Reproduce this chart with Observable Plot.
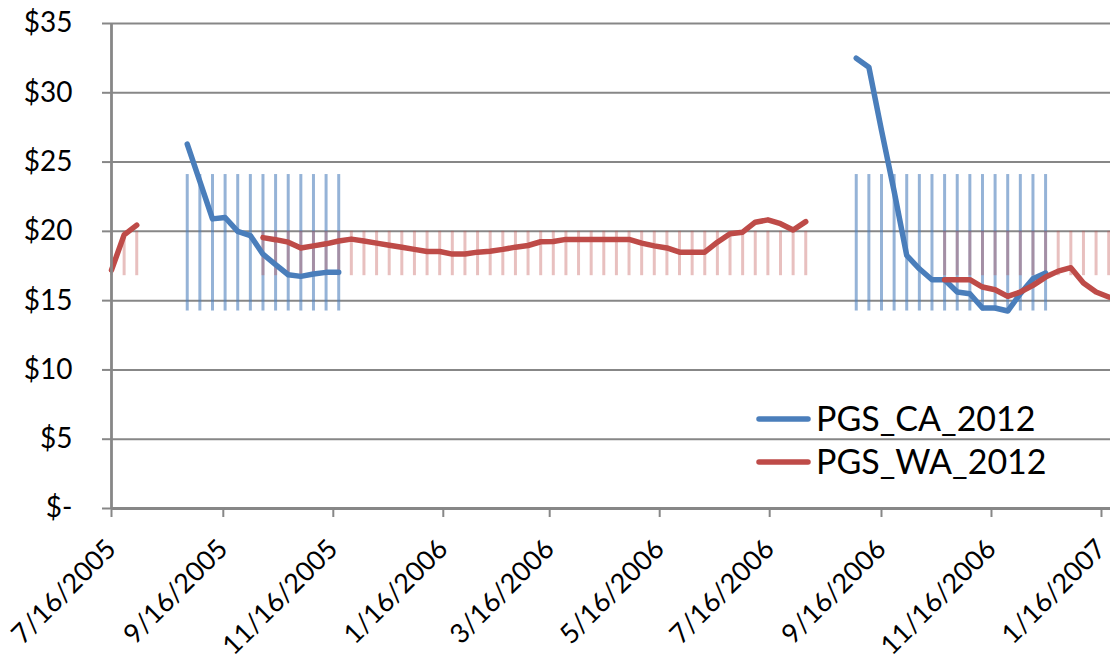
<!DOCTYPE html>
<html>
<head>
<meta charset="utf-8">
<script src="https://cdn.jsdelivr.net/npm/d3@7"></script>
<script src="https://cdn.jsdelivr.net/npm/@observablehq/plot@0.6"></script>
<style>
  html, body { margin: 0; padding: 0; background: #fff; }
  #chart { width: 1110px; height: 662px; }
</style>
</head>
<body>
<div id="chart"></div>
<script>
// ---- Data (weekly observations starting 7/16/2005) ----
const firstWeek = "2005-07-16";
const seriesNames = ["PGS_CA_2012", "PGS_WA_2012"];
const seriesColors = ["#4A7EBB", "#BE4B48"];

const caValues = [
  null, null, null, null, null, null,
  26.3, 23.6, 20.9, 21.0, 20.0, 19.7, 18.35, 17.6, 16.87, 16.75, 16.92, 17.04, 17.04,
  null, null, null, null, null, null, null, null, null, null,
  null, null, null, null, null, null, null, null, null, null,
  null, null, null, null, null, null, null, null, null, null,
  null, null, null, null, null, null, null, null, null, null,
  32.5, 31.85, 27.3, 22.9, 18.26, 17.3, 16.51, 16.51, 15.62, 15.5, 14.47, 14.47, 14.25, 15.5, 16.58, 16.99,
  null, null, null, null, null
];

const waValues = [
  17.2, 19.75, 20.45,
  null, null, null, null, null, null, null, null, null,
  19.55, 19.4, 19.22, 18.8, 18.95, 19.1, 19.3, 19.44, 19.3, 19.15,
  19.0, 18.85, 18.7, 18.55, 18.55, 18.36, 18.36, 18.5, 18.57, 18.7,
  18.86, 18.98, 19.25, 19.27, 19.42, 19.42, 19.42, 19.42, 19.42, 19.42,
  19.15, 18.95, 18.8, 18.5, 18.5, 18.5, 19.22, 19.83, 19.94, 20.66,
  20.83, 20.55, 20.1, 20.7,
  null, null, null, null, null, null, null, null, null, null,
  16.51, 16.51, 16.51, 15.98, 15.79, 15.31, 15.62, 16.1, 16.7, 17.13, 17.38, 16.27, 15.62, 15.26
];

// Background weekly range bars (low, high) for each series
const caBand = [14.25, 24.1];
const waBand = [16.8, 20.0];

const yTicks = [0, 5, 10, 15, 20, 25, 30, 35];
const xTickLabels = ["7/16/2005", "9/16/2005", "11/16/2005", "1/16/2006", "3/16/2006",
                     "5/16/2006", "7/16/2006", "9/16/2006", "11/16/2006", "1/16/2007"];
const xDomain = ["2005-07-16", "2007-01-21"];

// ---- Build table ----
const parse = d3.utcParse("%Y-%m-%d");
const start = parse(firstWeek);
const rows = caValues.map((v, i) => ({
  date: d3.utcDay.offset(start, 7 * i),
  ca: v,
  wa: waValues[i]
}));
const caRows = rows.filter(d => d.ca != null);
const waRows = rows.filter(d => d.wa != null);
const parseMDY = d3.utcParse("%m/%d/%Y");
const xTicks = xTickLabels.map(s => parseMDY(s));
const fmt = d => `${d.getUTCMonth() + 1}/${d.getUTCDate()}/${d.getUTCFullYear()}`;

const grid = "#878787";
const font = "Lato, 'Open Sans', sans-serif";

const svg = Plot.plot({
  width: 1110,
  height: 662,
  marginLeft: 111,
  marginRight: 0,
  marginTop: 23,
  marginBottom: 154,
  style: { fontFamily: font, fontSize: "28px", background: "#fff", overflow: "visible" },
  x: { type: "utc", domain: xDomain.map(parse) },
  y: { domain: [0, 35] },
  marks: [
    Plot.ruleY(yTicks.slice(1), { stroke: grid, strokeWidth: 2 }),
    Plot.ruleX(caRows, { x: "date", y1: caBand[0], y2: caBand[1], stroke: "#4F81BD", strokeOpacity: 0.6, strokeWidth: 3 }),
    Plot.ruleX(waRows, { x: "date", y1: waBand[0], y2: waBand[1], stroke: "#C0504D", strokeOpacity: 0.36, strokeWidth: 3 }),
    Plot.line(rows, { x: "date", y: "ca", stroke: seriesColors[0], strokeWidth: 5.5, strokeLinecap: "round", strokeLinejoin: "round" }),
    Plot.line(rows, { x: "date", y: "wa", stroke: seriesColors[1], strokeWidth: 5.5, strokeLinecap: "round", strokeLinejoin: "round" }),
    Plot.ruleY([0], { stroke: grid, strokeWidth: 2.8 }),
    Plot.ruleX([xTicks[0]], { y1: 0, y2: 35, stroke: grid, strokeWidth: 2.8 }),
    Plot.axisY({
      ticks: yTicks, tickSize: 9, tickPadding: 30, stroke: grid, strokeWidth: 2, fill: "#000",
      tickFormat: d => d === 0 ? "$-" : `$${d}`, label: null
    }),
    Plot.axisX({
      ticks: xTicks, tickSize: 9, tickPadding: 27, tickRotate: -45, stroke: grid, strokeWidth: 2, fill: "#000",
      fontSize: 27, tickFormat: fmt, label: null
    })
  ]
});

// ---- Legend inside plot area ----
const g = d3.select(svg).append("g")
  .attr("font-family", font).attr("font-size", 34).attr("text-anchor", "start");
seriesNames.forEach((name, i) => {
  const y = 419 + i * 43;
  g.append("line").attr("x1", 759).attr("x2", 808).attr("y1", y).attr("y2", y)
    .attr("stroke", seriesColors[i]).attr("stroke-width", 5.5).attr("stroke-linecap", "round");
  g.append("text").attr("x", 816).attr("y", y).attr("dy", "0.36em").attr("fill", "#000").text(name);
});

document.getElementById("chart").appendChild(svg);
</script>
</body>
</html>
